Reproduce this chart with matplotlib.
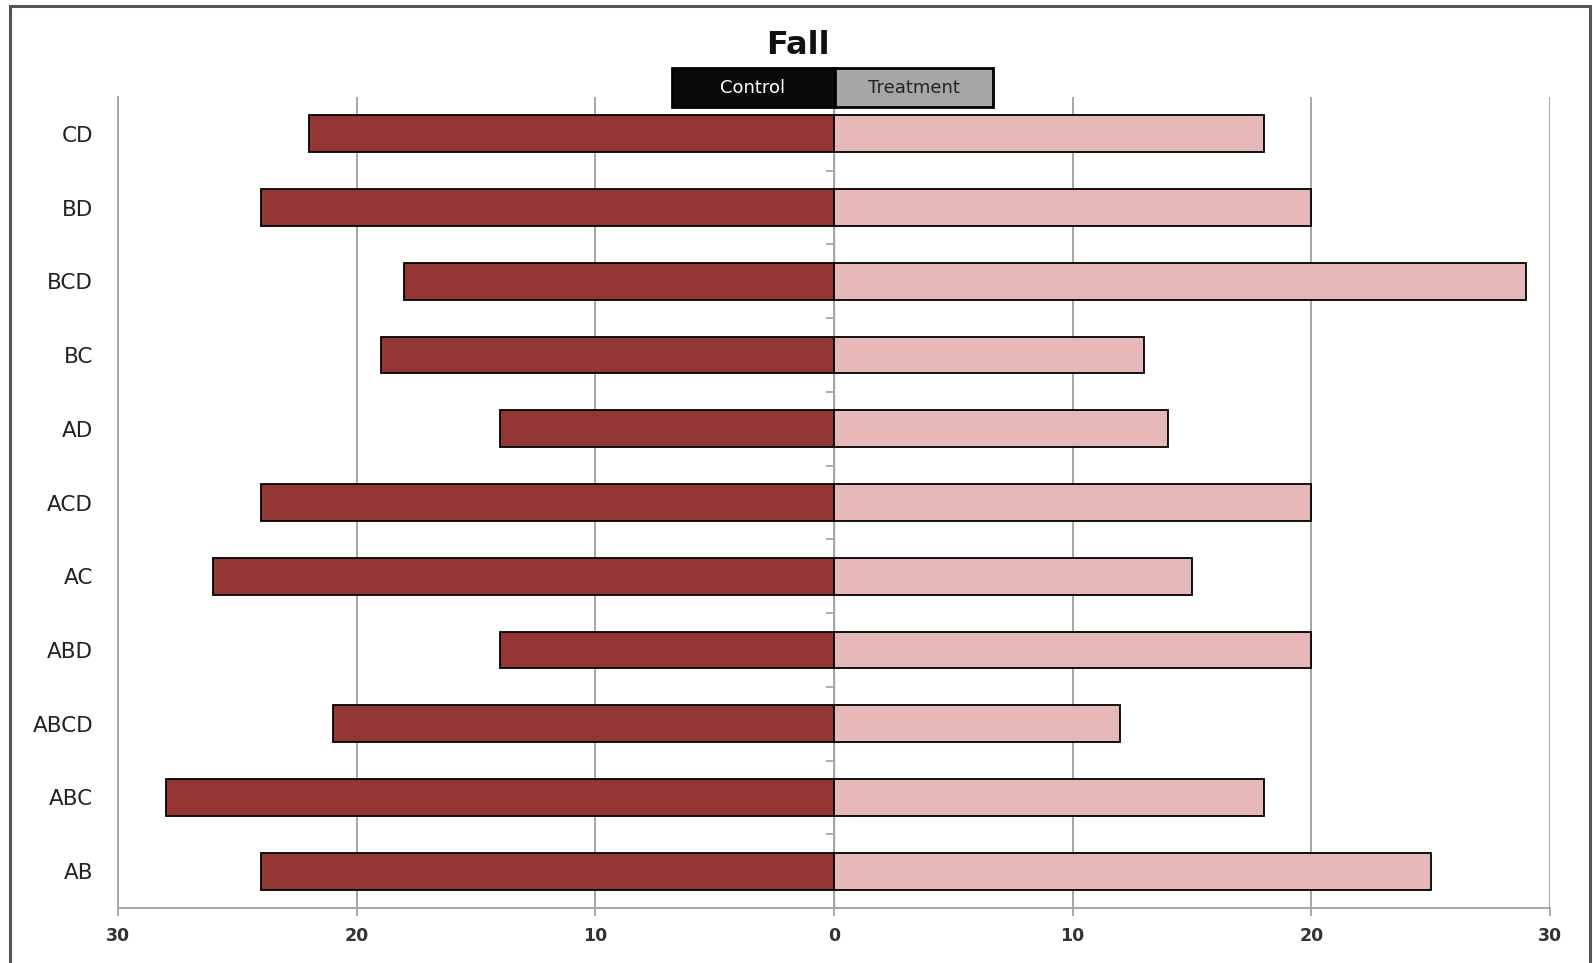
import matplotlib.pyplot as plt
import matplotlib.ticker as mticker
from matplotlib.patches import Rectangle
import numpy as np

# combinations, listed bottom to top
categories = ["AB", "ABC", "ABCD", "ABD", "AC", "ACD", "AD", "BC", "BCD", "BD", "CD"]
control = [24, 28, 21, 14, 26, 24, 14, 19, 18, 24, 22]
treatment = [25, 18, 12, 20, 15, 20, 14, 13, 29, 20, 18]
x_ticks = [-30, -20, -10, 0, 10, 20, 30]

control_color = "#943634"
treatment_color = "#E6B9B8"
grid_color = "#A6A6A6"

W, H = 1593, 963
fig = plt.figure(figsize=(W / 100, H / 100), dpi=100)
ax = fig.add_axes([118 / W, 1 - 908 / H, (1550 - 118) / W, (908 - 97) / H])

y = np.arange(len(categories))
ax.barh(y, -np.array(control), height=0.5, color=control_color,
        edgecolor="black", linewidth=1.3, zorder=3)
ax.barh(y, treatment, height=0.5, color=treatment_color,
        edgecolor="black", linewidth=1.3, zorder=3)

ax.set_xlim(-30, 30)
ax.set_ylim(-0.5, len(categories) - 0.5)
ax.set_xticks(x_ticks)
ax.xaxis.set_major_formatter(mticker.FuncFormatter(lambda v, p: "%d" % abs(v)))
ax.set_yticks(y)
ax.set_yticklabels(categories, fontsize=15.5, color="#222222")
ax.tick_params(axis="y", length=0, pad=18)
ax.tick_params(axis="x", length=6, width=1.3, color=grid_color, pad=8,
               labelsize=12.5, labelcolor="#333333")
for lbl in ax.get_xticklabels():
    lbl.set_fontweight("bold")

ax.grid(axis="x", color=grid_color, linewidth=1.4, zorder=0)
ax.set_axisbelow(True)
for side in ["top", "right"]:
    ax.spines[side].set_visible(False)
ax.spines["left"].set_color(grid_color)
ax.spines["left"].set_linewidth(1.4)
ax.spines["bottom"].set_color(grid_color)
ax.spines["bottom"].set_linewidth(1.4)

# centre axis with ticks between categories
center = ax.secondary_yaxis(0.5)
center.set_yticks(np.arange(len(categories) - 1) + 0.5)
center.set_yticklabels([])
center.spines["left"].set_color(grid_color)
center.spines["left"].set_linewidth(1.4)
center.spines["left"].set_zorder(4)
center.tick_params(length=6, width=1.3, color=grid_color, direction="in")

# title and legend strip
fig.text(798 / W, 1 - 45 / H, "Fall", ha="center", va="center",
         fontsize=23, fontweight="bold", color="#111111")
box_y0, box_y1 = 1 - 107 / H, 1 - 68 / H
fig.patches.append(Rectangle((672 / W, box_y0), (835 - 672) / W, box_y1 - box_y0,
                             transform=fig.transFigure, facecolor="#0A0A0A",
                             edgecolor="black", linewidth=2))
fig.patches.append(Rectangle((835 / W, box_y0), (993 - 835) / W, box_y1 - box_y0,
                             transform=fig.transFigure, facecolor="#A6A6A6",
                             edgecolor="black", linewidth=2))
fig.text(753 / W, (box_y0 + box_y1) / 2, "Control", ha="center", va="center",
         fontsize=13, color="white")
fig.text(914 / W, (box_y0 + box_y1) / 2, "Treatment", ha="center", va="center",
         fontsize=13, color="#222222")

# outer frame
fig.patches.append(Rectangle((10 / W, -0.02), 1580 / W, 1 - 6 / H + 0.02,
                             transform=fig.transFigure, facecolor="none",
                             edgecolor="#555555", linewidth=2.2))

fig.savefig("out.png", dpi=100)
